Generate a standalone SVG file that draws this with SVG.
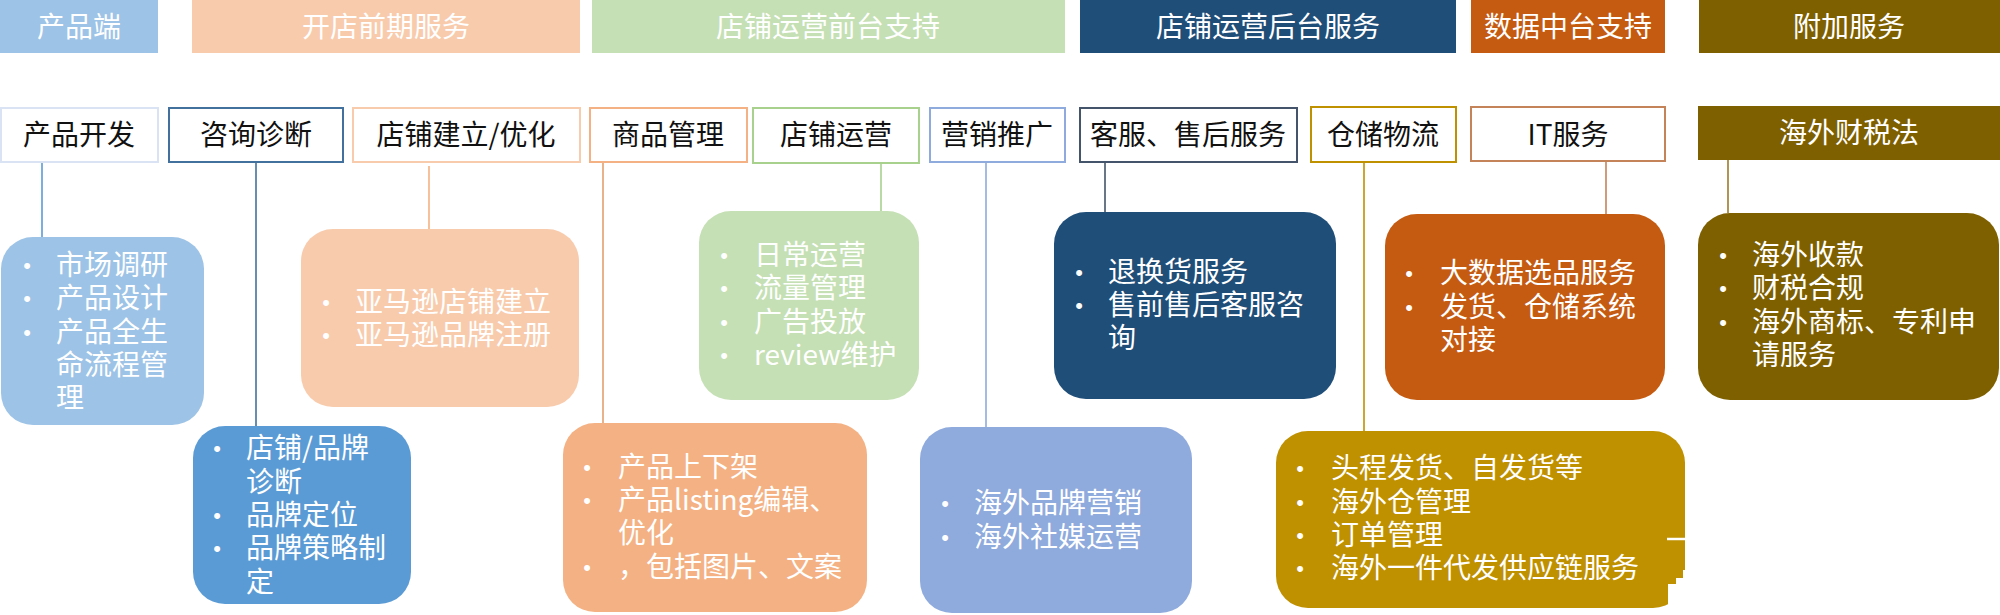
<svg xmlns="http://www.w3.org/2000/svg" width="2000" height="615" viewBox="0 0 2000 615">
<style>
text{font-family:"Noto Sans CJK SC","Noto Sans",sans-serif;font-size:28px}
.h{fill:#fff;text-anchor:middle}
.k{fill:#111;text-anchor:middle}
.w{fill:#fff}
.d{font-family:"Liberation Sans",sans-serif;font-size:22px;fill:#fff;text-anchor:middle}
.c{fill:none;stroke-width:1.6}
.nb{fill:#fff;stroke-width:2}
</style>
<rect width="2000" height="615" fill="#fff"/>
<g id="header">
<g id="h1"><rect x="0" y="0" width="158" height="53" fill="#9DC3E6"/><text class="h" x="79" y="37">产品端</text></g>
<g id="h2"><rect x="192" y="0" width="388" height="53" fill="#F8CBAD"/><text class="h" x="386" y="37">开店前期服务</text></g>
<g id="h3"><rect x="592" y="0" width="473" height="53" fill="#C5E0B4"/><text class="h" x="828" y="37">店铺运营前台支持</text></g>
<g id="h4"><rect x="1080" y="0" width="376" height="53" fill="#1F4E79"/><text class="h" x="1268" y="37">店铺运营后台服务</text></g>
<g id="h5"><rect x="1471" y="0" width="194" height="53" fill="#C55A11"/><text class="h" x="1568" y="37">数据中台支持</text></g>
<g id="h6"><rect x="1699" y="0" width="301" height="53" fill="#7F6000"/><text class="h" x="1849" y="37">附加服务</text></g>
</g>
<g id="connectors">
<line class="c" x1="42" y1="162" x2="42" y2="242" stroke="#5B9BD5"/>
<line class="c" x1="256" y1="162" x2="256" y2="426" stroke="#41719C"/>
<line class="c" x1="429" y1="166" x2="429" y2="229" stroke="#F4B183"/>
<line class="c" x1="603" y1="162" x2="603" y2="423" stroke="#E2A06E"/>
<line class="c" x1="881" y1="163" x2="881" y2="212" stroke="#A9D18E"/>
<line class="c" x1="986" y1="157" x2="986" y2="427" stroke="#8FAADC"/>
<line class="c" x1="1105" y1="162" x2="1105" y2="232" stroke="#44546A"/>
<line class="c" x1="1364" y1="157" x2="1364" y2="431" stroke="#BF9000"/>
<line class="c" x1="1606" y1="161" x2="1606" y2="214" stroke="#C5835A"/>
<line class="c" x1="1728" y1="160" x2="1728" y2="213" stroke="#9C7A2A"/>
</g>
<g id="n1"><rect class="nb" x="1" y="108" width="157" height="54" stroke="#DAE3F3"/><text class="k" x="79" y="145">产品开发</text></g>
<g id="n2"><rect class="nb" x="169" y="108" width="174" height="54" stroke="#41719C"/><text class="k" x="256" y="145">咨询诊断</text></g>
<g id="n3"><rect class="nb" x="353" y="108" width="227" height="54" stroke="#F8CBAD"/><text class="k" x="466" y="145">店铺建立/优化</text></g>
<g id="n4"><rect class="nb" x="590" y="108" width="157" height="54" stroke="#F4B183"/><text class="k" x="668" y="145">商品管理</text></g>
<g id="n5"><rect class="nb" x="753" y="108" width="166" height="55" stroke="#A9D18E"/><text class="k" x="836" y="145">店铺运营</text></g>
<g id="n6"><rect class="nb" x="930" y="108" width="135" height="54" stroke="#8FAADC"/><text class="k" x="997" y="145">营销推广</text></g>
<g id="n7"><rect class="nb" x="1080" y="108" width="217" height="54" stroke="#44546A" stroke-width="2.5"/><text class="k" x="1188" y="145">客服、售后服务</text></g>
<g id="n8"><rect class="nb" x="1311" y="107" width="145" height="55" stroke="#BF9000"/><text class="k" x="1383" y="145">仓储物流</text></g>
<g id="n9"><rect class="nb" x="1471" y="107" width="194" height="54" stroke="#C5835A"/><text class="k" x="1568" y="145">IT服务</text></g>
<g id="n10"><rect x="1698" y="106" width="302" height="54" fill="#7F6000"/><text class="h" x="1849" y="143">海外财税法</text></g>

<g id="b1"><rect x="1" y="237" width="203" height="188" rx="32" fill="#9DC3E6"/>
<text class="d" x="27" y="273">•</text><text class="d" x="27" y="306">•</text><text class="d" x="27" y="340">•</text>
<text class="w" x="56" y="275">市场调研</text><text class="w" x="56" y="308">产品设计</text><text class="w" x="56" y="342">产品全生</text><text class="w" x="56" y="375">命流程管</text><text class="w" x="56" y="408">理</text></g>

<g id="b2"><rect x="193" y="426" width="218" height="178" rx="32" fill="#5B9BD5"/>
<text class="d" x="217" y="456">•</text><text class="d" x="217" y="523">•</text><text class="d" x="217" y="556">•</text>
<text class="w" x="246" y="458">店铺/品牌</text><text class="w" x="246" y="492">诊断</text><text class="w" x="246" y="525">品牌定位</text><text class="w" x="246" y="558">品牌策略制</text><text class="w" x="246" y="592">定</text></g>

<g id="b3"><rect x="301" y="229" width="278" height="178" rx="32" fill="#F8CBAD"/>
<text class="d" x="326" y="310">•</text><text class="d" x="326" y="343">•</text>
<text class="w" x="355" y="312">亚马逊店铺建立</text><text class="w" x="355" y="345">亚马逊品牌注册</text></g>

<g id="b4"><rect x="563" y="423" width="304" height="189" rx="32" fill="#F4B183"/>
<text class="d" x="587" y="475">•</text><text class="d" x="587" y="508">•</text><text class="d" x="587" y="575">•</text>
<text class="w" x="618" y="477">产品上下架</text><text class="w" x="618" y="510">产品listing编辑、</text><text class="w" x="618" y="543">优化</text><text class="w" x="618" y="577">，包括图片、文案</text></g>

<g id="b5"><rect x="699" y="211" width="220" height="189" rx="32" fill="#C5E0B4"/>
<text class="d" x="724" y="263">•</text><text class="d" x="724" y="296">•</text><text class="d" x="724" y="330">•</text><text class="d" x="724" y="363">•</text>
<text class="w" x="754" y="265">日常运营</text><text class="w" x="754" y="298">流量管理</text><text class="w" x="754" y="332">广告投放</text><text class="w" x="754" y="365">review维护</text></g>

<g id="b6"><rect x="920" y="427" width="272" height="186" rx="32" fill="#8FAADC"/>
<text class="d" x="945" y="511">•</text><text class="d" x="945" y="545">•</text>
<text class="w" x="974" y="513">海外品牌营销</text><text class="w" x="974" y="547">海外社媒运营</text></g>

<g id="b7"><rect x="1054" y="212" width="282" height="187" rx="32" fill="#1F4E79"/>
<text class="d" x="1079" y="280">•</text><text class="d" x="1079" y="313">•</text>
<text class="w" x="1108" y="282">退换货服务</text><text class="w" x="1108" y="315">售前售后客服咨</text><text class="w" x="1108" y="348">询</text></g>

<g id="b8"><rect x="1276" y="431" width="409" height="177" rx="32" fill="#BF9000"/>
<text class="d" x="1300" y="476">•</text><text class="d" x="1300" y="510">•</text><text class="d" x="1300" y="543">•</text><text class="d" x="1300" y="576">•</text>
<text class="w" x="1331" y="478">头程发货、自发货等</text><text class="w" x="1331" y="512">海外仓管理</text><text class="w" x="1331" y="545">订单管理</text><text class="w" x="1331" y="578">海外一件代发供应链服务</text>
<line x1="1667" y1="539" x2="1686" y2="539" stroke="#fff" stroke-width="2.5"/>
<path d="M1683 570H1690V612H1668V584H1676V578H1683Z" fill="#fff"/></g>

<g id="b9"><rect x="1385" y="214" width="280" height="186" rx="32" fill="#C55A11"/>
<text class="d" x="1409" y="281">•</text><text class="d" x="1409" y="315">•</text>
<text class="w" x="1440" y="283">大数据选品服务</text><text class="w" x="1440" y="317">发货、仓储系统</text><text class="w" x="1440" y="350">对接</text></g>

<g id="b10"><rect x="1698" y="213" width="301" height="187" rx="32" fill="#7F6000"/>
<text class="d" x="1723" y="263">•</text><text class="d" x="1723" y="296">•</text><text class="d" x="1723" y="330">•</text>
<text class="w" x="1752" y="265">海外收款</text><text class="w" x="1752" y="298">财税合规</text><text class="w" x="1752" y="332">海外商标、专利申</text><text class="w" x="1752" y="365">请服务</text></g>
</svg>
